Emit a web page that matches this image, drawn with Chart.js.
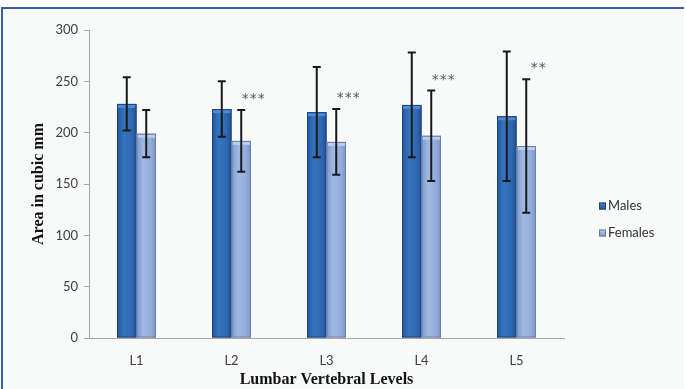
<!DOCTYPE html>
<html>
<head>
<meta charset="utf-8">
<script src="https://cdn.jsdelivr.net/npm/chart.js@4.4.1/dist/chart.umd.min.js"></script>
<style>
    html, body { margin: 0; padding: 0; background: #ffffff; }
    #wrap { width: 686px; height: 389px; }
</style>
</head>
<body>
<div id="wrap"><canvas id="levelsChart" width="686" height="389"></canvas></div>
<script>
// data (mean and SD, cubic mm)
var levels = ["L1", "L2", "L3", "L4", "L5"];
var malesMean = [228, 223, 220, 227, 216];
var malesSD = [26, 27, 44, 51, 63];
var femalesMean = [199, 192, 191, 197, 187];
var femalesSD = [23, 30, 32, 44, 65];
var significance = ["", "***", "***", "***", "**"];
var yTicks = [0, 50, 100, 150, 200, 250, 300];

var errors = [malesSD, femalesSD];
var palettes = [
    { stops: ["#23559c", "#3674c0", "#2e68b2", "#214f90"], edge: "#1d467f", top: "#4f8ad2" },
    { stops: ["#7d98cb", "#a0b9e3", "#92acdb", "#7a93c2"], edge: "#6880ad", top: "#bccdea" }
];

var backdrop = {
    id: "backdrop",
    beforeDraw: function (chart) {
        var c = chart.ctx;
        c.save();
        c.fillStyle = "#ffffff";
        c.fillRect(0, 0, chart.width, chart.height);
        c.fillStyle = "#f8f9f9";
        c.fillRect(2, 8, 682, chart.height - 8);
        c.strokeStyle = "#3b5ca6";
        c.lineWidth = 2;
        c.beginPath();
        c.moveTo(2, chart.height);
        c.lineTo(2, 8);
        c.lineTo(684, 8);
        c.stroke();
        c.restore();
    }
};

var shadedBars = {
    id: "shadedBars",
    afterDatasetsDraw: function (chart) {
        var c = chart.ctx;
        var yScale = chart.scales.y;
        c.save();
        chart.data.datasets.forEach(function (ds, di) {
            var meta = chart.getDatasetMeta(di);
            var pal = palettes[di];
            meta.data.forEach(function (bar, i) {
                var p = bar.getProps(["x", "y", "base", "width"], true);
                var left = p.x - p.width / 2;
                var g = c.createLinearGradient(left, 0, left + p.width, 0);
                g.addColorStop(0, pal.stops[0]);
                g.addColorStop(0.35, pal.stops[1]);
                g.addColorStop(0.75, pal.stops[2]);
                g.addColorStop(1, pal.stops[3]);
                c.fillStyle = g;
                c.fillRect(left, p.y, p.width, p.base - p.y);
                c.fillStyle = pal.top;
                c.fillRect(left + 1, p.y + 1, p.width - 2, 3);
                c.strokeStyle = pal.edge;
                c.lineWidth = 1;
                c.strokeRect(left + 0.5, p.y + 0.5, p.width - 1, p.base - p.y - 1);
            });
        });

        // error bars (mean +/- SD)
        c.strokeStyle = "#1a1a1a";
        c.lineWidth = 2;
        chart.data.datasets.forEach(function (ds, di) {
            var meta = chart.getDatasetMeta(di);
            meta.data.forEach(function (bar, i) {
                var v = ds.data[i], sd = errors[di][i];
                var yt = yScale.getPixelForValue(v + sd);
                var yb = yScale.getPixelForValue(v - sd);
                c.beginPath();
                c.moveTo(bar.x, yt);
                c.lineTo(bar.x, yb);
                c.moveTo(bar.x - 4, yt);
                c.lineTo(bar.x + 4, yt);
                c.moveTo(bar.x - 4, yb);
                c.lineTo(bar.x + 4, yb);
                c.stroke();
            });
        });

        // significance marks next to the female bars
        var fem = chart.getDatasetMeta(1);
        c.fillStyle = "#555555";
        c.font = "14px 'DejaVu Sans'";
        c.textAlign = "center";
        c.textBaseline = "alphabetic";
        significance.forEach(function (s, i) {
            if (!s) return;
            var cx = fem.data[i].x + 12;
            var cy = yScale.getPixelForValue(femalesMean[i] + femalesSD[i]) - 15 + 8;
            for (var k = 0; k < s.length; k++) {
                c.fillText("*", cx + (k - (s.length - 1) / 2) * 8, cy);
            }
        });
        c.restore();
    },
    afterDraw: function (chart) {
        var c = chart.ctx;
        var x0 = chart.chartArea.right + 35;
        var rows = [206, 233];
        c.save();
        c.font = "13px Lato";
        c.textBaseline = "middle";
        c.textAlign = "left";
        chart.data.datasets.forEach(function (ds, di) {
            var pal = palettes[di];
            var y = rows[di];
            var g = c.createLinearGradient(x0, y - 4, x0, y + 4);
            g.addColorStop(0, pal.top);
            g.addColorStop(1, pal.stops[3]);
            c.fillStyle = g;
            c.fillRect(x0, y - 3.5, 7, 7);
            c.strokeStyle = pal.edge;
            c.lineWidth = 1;
            c.strokeRect(x0 + 0.5, y - 3, 6, 6);
            c.fillStyle = "#333333";
            c.fillText(ds.label, x0 + 9, y);
        });
        c.restore();
    }
};

var ctx = document.getElementById("levelsChart").getContext("2d");
var levelsChart = new Chart(ctx, {
    type: "bar",
    data: {
        labels: levels,
        datasets: [
            {
                label: "Males",
                data: malesMean,
                backgroundColor: "#2e68b2",
                borderColor: "#1d467f",
                borderWidth: 1
            },
            {
                label: "Females",
                data: femalesMean,
                backgroundColor: "#92acdb",
                borderColor: "#6880ad",
                borderWidth: 1
            }
        ]
    },
    options: {
        responsive: false,
        animation: false,
        layout: {
            padding: { top: 30, right: 122, bottom: 0, left: 0 }
        },
        datasets: {
            bar: { categoryPercentage: 0.41, barPercentage: 1.0 }
        },
        plugins: {
            legend: { display: false },
            tooltip: { enabled: false }
        },
        scales: {
            x: {
                grid: { display: false, drawTicks: false },
                border: { display: true, color: "#a6a6a6", width: 1 },
                ticks: {
                    color: "#404040",
                    font: { family: "Lato", size: 13 },
                    padding: 15
                },
                title: {
                    display: true,
                    text: "Lumbar Vertebral Levels",
                    color: "#111111",
                    font: { family: "Liberation Serif", size: 16, weight: "bold" },
                    padding: { top: 0, bottom: 0 }
                },
                afterFit: function (scale) { scale.height = 51; }
            },
            y: {
                min: 0,
                max: 300,
                afterBuildTicks: function (scale) {
                    scale.ticks = yTicks.map(function (v) { return { value: v }; });
                },
                grid: { drawOnChartArea: false, tickLength: 5, color: "#a6a6a6" },
                border: { display: true, color: "#a6a6a6", width: 1 },
                ticks: {
                    color: "#404040",
                    font: { family: "Lato", size: 13 },
                    padding: 6
                },
                title: {
                    display: true,
                    text: "Area in cubic mm",
                    color: "#111111",
                    font: { family: "Liberation Serif", size: 16, weight: "bold" },
                    padding: { top: 29, bottom: 0 }
                },
                afterFit: function (scale) { scale.width = 89; }
            }
        }
    },
    plugins: [backdrop, shadedBars]
});
</script>
</body>
</html>
